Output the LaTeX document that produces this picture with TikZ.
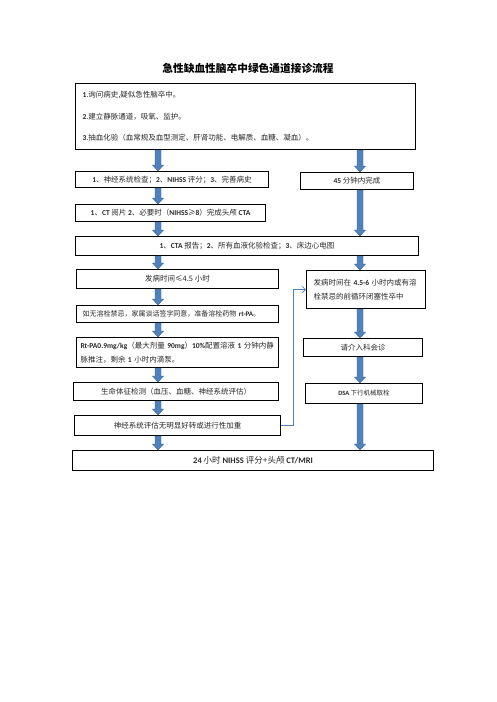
\documentclass[tikz,border=0pt]{standalone}
\usepackage{fontspec}
\setmainfont{Noto Sans CJK SC}
\newfontfamily\latf{Carlito}
\newcommand\lat{\latf\bfseries}
\usetikzlibrary{arrows.meta,calc}
\definecolor{arrblue}{RGB}{79,129,189}
\definecolor{arredge}{RGB}{58,98,148}
\definecolor{txt}{RGB}{40,40,40}
\newcommand\barr[3]{%
  \filldraw[fill=arrblue,draw=arredge,line width=0.4pt]
    let \p1=(#1 -| #3), \p2=(#2 -| #3) in
    (\x1-3pt,\y1) -- (\x1+3pt,\y1) -- (\x1+3pt,\y2+6pt) -- (\x1+5.5pt,\y2+6pt)
    -- (\x1,\y2) -- (\x1-5.5pt,\y2+6pt) -- (\x1-3pt,\y2+6pt) -- cycle;}
\begin{document}
\begin{tikzpicture}[x=1pt,y=-1pt,
  box/.style={draw=black,line width=1pt,inner sep=0pt,anchor=north west,
    text=txt,font=\fontsize{7.5}{9}\selectfont},
  fs/.style={font=\fontsize{#1}{9}\selectfont}]
\useasboundingbox (0,0) rectangle (496,702);
\coordinate (L) at (158,0);
\coordinate (R) at (360,0);
\coordinate (J) at (293,0);

\node[font=\fontsize{10.7}{12}\selectfont\bfseries] (title) at (248,68) {急性缺血性脑卒中绿色通道接诊流程};

\node[box,minimum width=340pt,minimum height=66pt,text width=326pt,inner xsep=7pt,align=left,
  font=\fontsize{7.5}{21.5}\selectfont] (b1) at (75,83)
  {{\lat 1}.询问病史,疑似急性脑卒中。\\{\lat 2}.建立静脉通道，吸氧、监护。\\{\lat 3}.抽血化验（血常规及血型测定、肝肾功能、电解质、血糖、凝血）。};

\node[box,minimum width=193pt,minimum height=16pt] (b2) at (75,171)
  {{\lat 1}、神经系统检查；{\lat 2}、{\lat NIHSS} 评分；{\lat 3}、完善病史};
\node[box,minimum width=113pt,minimum height=17pt] (b3) at (300,172)
  {{\lat 45} 分钟内完成};
\node[box,minimum width=190pt,minimum height=17pt] (b4) at (75,204)
  {{\lat 1}、{\lat CT} 阅片 {\lat 2}、必要时（{\lat NIHSS}≥{\lat 8}）完成头颅 {\lat CTA}};
\node[box,minimum width=343pt,minimum height=19pt] (b5) at (75,236)
  {{\lat 1}、{\lat CTA} 报告；{\lat 2}、所有血液化验检查；{\lat 3}、床边心电图};
\node[box,minimum width=202pt,minimum height=19pt] (b6) at (76,269)
  {发病时间≤4.5 小时};
\node[box,minimum width=119pt,minimum height=38pt,text width=105pt,inner xsep=7pt,align=left,
  font=\fontsize{7.5}{14}\selectfont] (b7) at (306,270)
  {发病时间在 {\lat 4.5-6} 小时内或有溶\\栓禁忌的前循环闭塞性卒中};
\node[box,minimum width=202pt,minimum height=17pt,text width=190pt,inner xsep=6pt,align=left,
  fs=7] (b8) at (76,305)
  {如无溶栓禁忌，家属谈话签字同意，准备溶栓药物 {\lat rt-PA}。};
\node[box,minimum width=202pt,minimum height=30pt,text width=194pt,inner xsep=4pt,align=left,
  font=\fontsize{7.5}{14.5}\selectfont] (b9) at (76,337)
  {{\lat Rt-PA0.9mg/kg}（最大剂量 {\lat 90mg}）{\lat 10\%}配置溶液 {\lat 1} 分钟内静\\脉推注，剩余 {\lat 1} 小时内滴泵。};
\node[box,minimum width=119pt,minimum height=18pt] (b10) at (303,338)
  {请介入科会诊};
\node[box,minimum width=205pt,minimum height=18pt] (b11) at (73,382)
  {生命体征检测（血压、血糖、神经系统评估）};
\node[box,minimum width=117pt,minimum height=20pt,fs=6.5] (b12) at (305,383)
  {{\lat DSA} 下行机械取栓};
\node[box,minimum width=206pt,minimum height=20pt] (b13) at (74,415)
  {神经系统评估无明显好转或进行性加重};
\node[box,minimum width=361pt,minimum height=20pt,fs=8.5] (b14) at (72,450)
  {{\lat 24} 小时 {\lat NIHSS} 评分+头颅 {\lat CT/MRI}};

\barr{b1.south}{b2.north}{L}
\barr{b1.south}{b3.north}{R}
\barr{b2.south}{b4.north}{L}
\barr{b4.south}{b5.north}{L}
\barr{b3.south}{b5.north}{R}
\barr{b5.south}{b6.north}{L}
\barr{b5.south}{b7.north}{R}
\barr{b6.south}{b8.north}{L}
\barr{b8.south}{b9.north}{L}
\barr{b7.south}{b10.north}{R}
\barr{b9.south}{b11.north}{L}
\barr{b10.south}{b12.north}{R}
\barr{b11.south}{b13.north}{L}
\barr{b13.south}{b14.north}{L}
\barr{b12.south}{b14.north}{R}

\draw[arrblue,line width=0.8pt,-{Straight Barb[length=3pt,width=6pt]}]
  (b13.east) -- (b13.east -| J) -- (b7.west -| J) -- (b7.west);
\end{tikzpicture}
\end{document}
